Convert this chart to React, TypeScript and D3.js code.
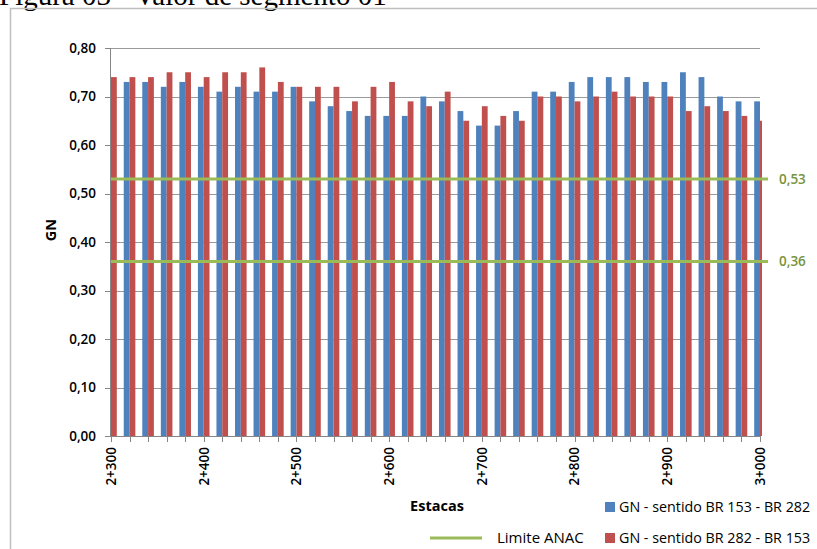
import React from "react";
import * as d3 from "d3";

// Stations (metres) along the road, one every 20 m
const stations = [
  2300, 2320, 2340, 2360, 2380, 2400, 2420, 2440, 2460, 2480,
  2500, 2520, 2540, 2560, 2580, 2600, 2620, 2640, 2660, 2680,
  2700, 2720, 2740, 2760, 2780, 2800, 2820, 2840, 2860, 2880,
  2900, 2920, 2940, 2960, 2980, 3000,
];

// GN - sentido BR 153 - BR 282
const gnBr153: (number | null)[] = [
  null, 0.73, 0.73, 0.72, 0.73, 0.72, 0.71, 0.72, 0.71, 0.71,
  0.72, 0.69, 0.68, 0.67, 0.66, 0.66, 0.66, 0.70, 0.69, 0.67,
  0.64, 0.64, 0.67, 0.71, 0.71, 0.73, 0.74, 0.74, 0.74, 0.73,
  0.73, 0.75, 0.74, 0.70, 0.69, 0.69,
];

// GN - sentido BR 282 - BR 153
const gnBr282: (number | null)[] = [
  0.74, 0.74, 0.74, 0.75, 0.75, 0.74, 0.75, 0.75, 0.76, 0.73,
  0.72, 0.72, 0.72, 0.69, 0.72, 0.73, 0.69, 0.68, 0.71, 0.65,
  0.68, 0.66, 0.65, 0.70, 0.70, 0.69, 0.70, 0.71, 0.70, 0.70,
  0.70, 0.67, 0.68, 0.67, 0.66, 0.65,
];

// ANAC limits
const limits = [0.53, 0.36];

const xTickValues = [2300, 2400, 2500, 2600, 2700, 2800, 2900, 3000];
const yTickValues = [0, 0.1, 0.2, 0.3, 0.4, 0.5, 0.6, 0.7, 0.8];

const legendItems = [
  { label: "GN - sentido BR 153 - BR 282", color: "#4F81BD" },
  { label: "GN - sentido BR 282 - BR 153", color: "#C0504D" },
];

const W = 817;
const H = 549;
const plot = { left: 111, right: 760, top: 48, bottom: 436 };
const BLUE = "#4F81BD";
const RED = "#C0504D";
const GREEN = "#9BBB59";
const GREEN_TEXT = "#77933C";
const AXIS = "#868686";
const GRID = "#9A9A9A";
const FONT = "'Open Sans', 'Noto Sans', sans-serif";

const fmtStation = (m: number) => `${Math.floor(m / 1000)}+${String(m % 1000).padStart(3, "0")}`;
const fmtComma = (v: number) => v.toFixed(2).replace(".", ",");

export default function App() {
  const x = d3.scaleLinear().domain([2300, 3000]).range([plot.left, plot.right]);
  const y = d3.scaleLinear().domain([0, 0.8]).range([plot.bottom, plot.top]);
  const barW = 5.8;

  return (
    <svg
      width={W}
      height={H}
      style={{ position: "absolute", left: 0, top: 0, background: "#fff" }}
      fontFamily={FONT}
    >
      <defs>
        <clipPath id="plotClip">
          <rect x={plot.left} y={0} width={plot.right - plot.left + 2} height={plot.bottom} />
        </clipPath>
      </defs>

      {/* caption above the chart frame */}
      <text x={-1} y={5} fontFamily="'Liberation Serif', 'DejaVu Serif', serif" fontSize={29} fill="#000">
        Figura 03 - Valor de segmento 01
      </text>

      {/* chart area frame */}
      <rect x={10.5} y={8.5} width={W} height={H} fill="none" stroke="#BFBFBF" strokeWidth={1.5} />

      {/* horizontal gridlines */}
      {yTickValues.slice(1).map((v) => (
        <line key={`g${v}`} x1={plot.left} x2={plot.right} y1={Math.round(y(v)) + 0.5} y2={Math.round(y(v)) + 0.5} stroke={GRID} strokeWidth={1} />
      ))}

      {/* bars */}
      <g clipPath="url(#plotClip)">
        {stations.map((s, i) => {
          const b = gnBr153[i];
          const r = gnBr282[i];
          return (
            <g key={s}>
              {b !== null && (
                <rect x={x(s) - barW} y={y(b)} width={barW} height={y(0) - y(b)} fill={BLUE} />
              )}
              {r !== null && (
                <rect x={x(s)} y={y(r)} width={barW} height={y(0) - y(r)} fill={RED} />
              )}
            </g>
          );
        })}
      </g>

      {/* y axis */}
      <line x1={plot.left - 0.5} x2={plot.left - 0.5} y1={plot.top} y2={plot.bottom} stroke={AXIS} />
      {yTickValues.map((v) => (
        <g key={`y${v}`}>
          <line x1={plot.left - 6} x2={plot.left} y1={Math.round(y(v)) + 0.5} y2={Math.round(y(v)) + 0.5} stroke={AXIS} />
          <text x={96} y={y(v)} dy="0.36em" textAnchor="end" fontSize={13.5} fontWeight={600} fill="#000">
            {fmtComma(v)}
          </text>
        </g>
      ))}

      {/* x axis */}
      <line x1={plot.left} x2={plot.right} y1={plot.bottom + 0.5} y2={plot.bottom + 0.5} stroke={AXIS} />
      {stations.map((s) => (
        <line key={`t${s}`} x1={Math.round(x(s)) + 0.5} x2={Math.round(x(s)) + 0.5} y1={plot.bottom} y2={plot.bottom + 6} stroke={AXIS} />
      ))}
      {xTickValues.map((s) => (
        <text
          key={`xl${s}`}
          transform={`translate(${x(s)},${447}) rotate(-90)`}
          textAnchor="end"
          dy="0.36em"
          fontSize={13.5}
          fontWeight={600}
          fill="#000"
        >
          {fmtStation(s)}
        </text>
      ))}

      {/* axis titles */}
      <text transform={`translate(51,230) rotate(-90)`} textAnchor="middle" dy="0.36em" fontSize={14.5} fontWeight={700} fill="#000">
        GN
      </text>
      <text x={437} y={506} textAnchor="middle" dy="0.36em" fontSize={14.5} fontWeight={700} fill="#000">
        Estacas
      </text>

      {/* ANAC limit lines */}
      {limits.map((v) => (
        <g key={`l${v}`}>
          <line x1={plot.left} x2={768} y1={y(v)} y2={y(v)} stroke={GREEN} strokeWidth={3} />
          <text x={779} y={y(v)} dy="0.36em" fontSize={13.5} fontWeight={600} fill={GREEN_TEXT}>
            {fmtComma(v)}
          </text>
        </g>
      ))}

      {/* legend */}
      <line x1={430} x2={482} y1={538} y2={538} stroke={GREEN} strokeWidth={3} />
      <text x={497} y={538} dy="0.36em" fontSize={15} fill="#000">
        Limite ANAC
      </text>
      {legendItems.map((it, i) => (
        <g key={it.label}>
          <rect x={605} y={502 + i * 31} width={10} height={10} fill={it.color} />
          <text x={619} y={507 + i * 31} dy="0.36em" fontSize={14.3} fill="#000">
            {it.label}
          </text>
        </g>
      ))}
    </svg>
  );
}
